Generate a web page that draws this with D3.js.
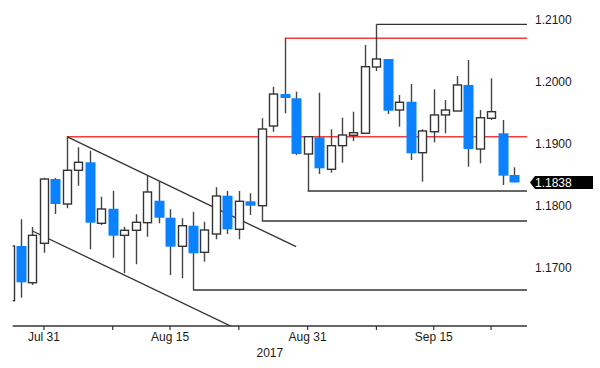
<!DOCTYPE html>
<html><head><meta charset="utf-8">
<script src="https://cdn.jsdelivr.net/npm/d3@7"></script>
<style>html,body{margin:0;padding:0;background:#fff;} svg{display:block;}</style>
</head><body><svg id="chart" width="600" height="368"></svg>
<script>
// ---------- data ----------
const dates = ["2017-07-26","2017-07-27","2017-07-28","2017-07-31","2017-08-01","2017-08-02","2017-08-03","2017-08-04",
  "2017-08-07","2017-08-08","2017-08-09","2017-08-10","2017-08-11","2017-08-14","2017-08-15","2017-08-16","2017-08-17",
  "2017-08-18","2017-08-21","2017-08-22","2017-08-23","2017-08-24","2017-08-25","2017-08-28","2017-08-29","2017-08-30",
  "2017-08-31","2017-09-01","2017-09-04","2017-09-05","2017-09-06","2017-09-07","2017-09-08","2017-09-11","2017-09-12",
  "2017-09-13","2017-09-14","2017-09-15","2017-09-18","2017-09-19","2017-09-20","2017-09-21","2017-09-22","2017-09-25","2017-09-26"];
const opens = [1.16473,1.17355,1.16763,1.17398,1.18435,1.18032,1.18576,1.18705,1.17721,1.17956,1.17527,1.17608,1.17731,
  1.18085,1.17811,1.1735,1.17682,1.17253,1.17548,1.18166,1.17624,1.18076,1.18005,1.1929,1.19806,1.19737,1.18839,1.19108,
  1.18592,1.18973,1.1914,1.19173,1.20242,1.20371,1.19548,1.19682,1.1886,1.19198,1.19468,1.19532,1.19952,1.18919,1.19415,1.19173,1.185];
const highs = [1.17355,1.17785,1.17661,1.18456,1.18452,1.19118,1.18947,1.18892,1.1815,1.18247,1.17666,1.17866,1.18489,
  1.18403,1.17947,1.17802,1.17908,1.17747,1.18302,1.18242,1.18242,1.18205,1.19415,1.19924,1.20705,1.19844,1.19129,1.19827,
  1.19237,1.19424,1.19521,1.20597,1.20931,1.20371,1.1979,1.19968,1.19237,1.19882,1.1971,1.20097,1.20355,1.19548,1.2006,1.19387,1.18624];
const lows = [1.16473,1.16521,1.16726,1.17247,1.17871,1.17963,1.18327,1.17302,1.17694,1.17166,1.16915,1.1706,1.17505,
  1.17721,1.16887,1.16834,1.16645,1.17102,1.17463,1.17548,1.17463,1.17855,1.17758,1.19198,1.19495,1.18823,1.18242,1.18516,
  1.18537,1.18698,1.19048,1.19161,1.20177,1.19484,1.19279,1.18742,1.18392,1.19027,1.19173,1.19532,1.18634,1.18689,1.19387,1.18339,1.1838];
const closes = [1.17355,1.16769,1.17527,1.18435,1.18032,1.18576,1.18705,1.17731,1.17952,1.17521,1.17608,1.17737,1.18226,
  1.17811,1.17344,1.17682,1.17237,1.17613,1.18161,1.17624,1.18076,1.18005,1.19242,1.19806,1.19742,1.18839,1.19118,1.18608,
  1.18973,1.19145,1.19182,1.20247,1.20371,1.19537,1.19673,1.1885,1.1921,1.19468,1.19548,1.19952,1.18919,1.19424,1.19521,1.18489,1.1838];

const priceTicks = [1.17, 1.18, 1.19, 1.20, 1.21];
const dateTicks = ["2017-07-31","2017-08-08","2017-08-15","2017-08-23","2017-08-31","2017-09-08","2017-09-15","2017-09-22"];
const dateTickLabels = ["Jul 31","","Aug 15","","Aug 31","","Sep 15",""];
const yearLabel = "2017";
const lastPrice = 1.1838;

// horizontal levels: value and the date they start from (run to the right edge)
const levelValues = [1.19118, 1.20705, 1.20931, 1.18242, 1.17758, 1.16645];
const levelStarts = ["2017-08-02","2017-08-29","2017-09-08","2017-08-31","2017-08-25","2017-08-17"];
const levelRoles  = ["key","key","swing","swing","swing","swing"];

// descending channel lines: [start date, start value, end date, end value]
const channelStartDates = ["2017-08-02","2017-07-28"];
const channelStartValues = [1.19118, 1.17597];
const channelEndDates = ["2017-08-30","2017-08-23"];
const channelEndValues = [1.17344, 1.16000];

// ---------- drawing ----------
const W = 600, H = 368;
const plotLeft = 12.7, plotRight = 527, axisY = 326;
const svg = d3.select("#chart");
const FONT = "'Liberation Sans Narrow','Arial Narrow','Liberation Sans',Arial,sans-serif";
const BLUE = "#0a82ff", INK = "#333333", RED = "#f23d3d";

const di = d => dates.indexOf(d);
const x = d3.scaleLinear().domain([1, dates.length - 1]).range([21, 514]);
const y = d3.scaleLinear().domain([1.17, 1.21]).range([268, 20]);

svg.append("defs").append("clipPath").attr("id","plotClip")
  .append("rect").attr("x", plotLeft).attr("y", 0).attr("width", plotRight - plotLeft).attr("height", axisY);

const plot = svg.append("g").attr("clip-path","url(#plotClip)");

// levels
plot.selectAll("line.level").data(levelValues).join("line").attr("class","level")
  .attr("x1", (v,i) => x(di(levelStarts[i]))).attr("x2", plotRight)
  .attr("y1", v => y(v)).attr("y2", v => y(v))
  .attr("stroke", (v,i) => levelRoles[i] === "key" ? RED : INK)
  .attr("stroke-width", (v,i) => levelRoles[i] === "key" ? 1.6 : 1.3);

// channel
plot.selectAll("line.chan").data(channelStartDates).join("line").attr("class","chan")
  .attr("x1", (d,i) => x(di(d))).attr("y1", (d,i) => y(channelStartValues[i]))
  .attr("x2", (d,i) => x(di(channelEndDates[i]))).attr("y2", (d,i) => y(channelEndValues[i]))
  .attr("stroke", INK).attr("stroke-width", 1.3);

// candles
const idx = d3.range(dates.length);
const bull = i => closes[i] >= opens[i];
plot.selectAll("line.wick").data(idx).join("line").attr("class","wick")
  .attr("x1", i => Math.round(x(i)) + 0.5).attr("x2", i => Math.round(x(i)) + 0.5)
  .attr("y1", i => y(highs[i])).attr("y2", i => y(lows[i]))
  .attr("stroke", "#444").attr("stroke-width", 1.4);

plot.selectAll("rect.body").data(idx).join("rect").attr("class","body")
  .attr("x", i => bull(i) ? Math.round(x(i)) + 0.5 - 4 : Math.round(x(i)) + 0.5 - 5)
  .attr("width", i => bull(i) ? 8 : 10)
  .attr("y", i => y(Math.max(opens[i], closes[i])))
  .attr("height", i => Math.max(1, y(Math.min(opens[i], closes[i])) - y(Math.max(opens[i], closes[i]))))
  .attr("fill", i => bull(i) ? "#ffffff" : BLUE)
  .attr("stroke", i => bull(i) ? INK : "none")
  .attr("stroke-width", 1.4);

// x axis
svg.append("line").attr("x1", plotLeft).attr("x2", plotRight).attr("y1", axisY).attr("y2", axisY)
  .attr("stroke", INK).attr("stroke-width", 1.5);
svg.selectAll("line.xt").data(dateTicks).join("line").attr("class","xt")
  .attr("x1", d => x(di(d))).attr("x2", d => x(di(d)))
  .attr("y1", axisY).attr("y2", axisY + 4).attr("stroke", INK).attr("stroke-width", 1.2);
svg.selectAll("text.xl").data(dateTicks).join("text").attr("class","xl")
  .attr("x", d => x(di(d))).attr("y", axisY + 15)
  .attr("text-anchor","middle").attr("font-family", FONT).attr("font-size", 12).attr("fill", "#1a1a1a")
  .text((d,i) => dateTickLabels[i]);
svg.append("text").attr("x", (plotLeft + plotRight) / 2).attr("y", axisY + 31)
  .attr("text-anchor","middle").attr("font-family", FONT).attr("font-size", 12).attr("fill", "#1a1a1a")
  .text(yearLabel);

// y axis labels (right)
svg.selectAll("text.yl").data(priceTicks).join("text").attr("class","yl")
  .attr("x", 535).attr("y", v => y(v)).attr("dy","0.35em")
  .attr("font-family", FONT).attr("font-size", 12).attr("fill", "#1a1a1a")
  .text(v => d3.format(".4f")(v));

// last price tag
const ly = y(lastPrice);
svg.append("path")
  .attr("d", `M530,${ly} L535,${ly-6.5} L593,${ly-6.5} L593,${ly+6.5} L535,${ly+6.5} Z`)
  .attr("fill", "#000");
svg.append("text").attr("x", 535).attr("y", ly).attr("dy","0.35em")
  .attr("font-family", FONT).attr("font-size", 12).attr("fill", "#fff")
  .text(d3.format(".4f")(lastPrice));
</script></body></html>
